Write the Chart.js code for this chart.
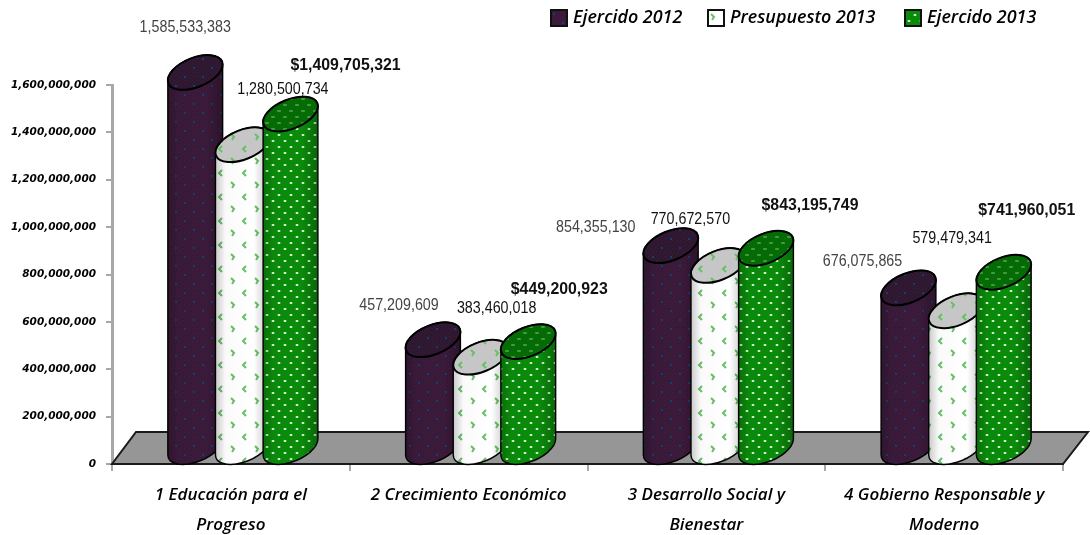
<!DOCTYPE html>
<html><head><meta charset="utf-8">
<style>html,body{margin:0;padding:0;background:#fff}#w{width:1090px;height:535px}</style>
<script src="https://cdn.jsdelivr.net/npm/chart.js@4/dist/chart.umd.js"></script>
</head><body><div id="w"><canvas id="c"></canvas></div>
<script>
const categories = [["1 Educación para el","Progreso"],"2 Crecimiento Económico",["3 Desarrollo Social y","Bienestar"],["4 Gobierno Responsable y","Moderno"]];
const seriesNames = ["Ejercido 2012","Presupuesto 2013","Ejercido 2013"];
const ejercido2012 = [1585533383,457209609,854355130,676075865];
const presupuesto2013 = [1280500734,383460018,770672570,579479341];
const ejercido2013 = [1409705321,449200923,843195749,741960051];
const yTicks = [0,200000000,400000000,600000000,800000000,1000000000,1200000000,1400000000,1600000000];

const DEPTH_X = 24, DEPTH_Y = 32;
const labelOffsets = [
  [[2,-61],[-22,-50],[-63,-34],[-34,-43]],
  [[52,-71],[28,-65],[-16,-62],[8,-88]],
  [[67,-65],[43,-68],[56,-59],[35,-78]]
];

function tile(w,h,fn){const c=document.createElement('canvas');c.width=w;c.height=h;fn(c.getContext('2d'));return c;}
function purpleTile(base){return tile(18,18,g=>{
  g.fillStyle=base;g.fillRect(0,0,18,18);
  g.fillStyle='rgba(110,25,60,.4)';
  for(let y=0;y<18;y+=2)for(let x=(y%4);x<18;x+=4)g.fillRect(x,y,1,1);
  g.fillStyle='#124070';
  g.fillRect(4,4,2,2);g.fillRect(13,13,2,2);
});}
function greenTile(base,dot){return tile(12,12,g=>{
  g.fillStyle=base;g.fillRect(0,0,12,12);
  g.fillStyle=dot;
  g.fillRect(2,2,2,2);g.fillRect(8,8,2,2);
  g.fillStyle='rgba(255,255,255,.22)';
  g.fillRect(1,2,1,2);g.fillRect(4,2,1,2);g.fillRect(7,8,1,2);g.fillRect(10,8,1,2);
});}
function whiteTile(base){return tile(24,24,g=>{
  g.fillStyle=base;g.fillRect(0,0,24,24);
  g.strokeStyle='#66c266';g.lineWidth=2;
  const l=(x,y)=>{g.beginPath();g.moveTo(x+3,y);g.lineTo(x,y+3);g.lineTo(x+3,y+6);g.stroke();};
  const r=(x,y)=>{g.beginPath();g.moveTo(x,y);g.lineTo(x+3,y+3);g.lineTo(x+1,y+6);g.stroke();};
  l(3,2);r(15,14);
});}
const skins=[
  {body:purpleTile('#381a3a'),cap:purpleTile('#2c1830')},
  {body:whiteTile('#ffffff'),cap:whiteTile('#c6c6c6')},
  {body:greenTile('#0a8c0a','#d0eed0'),cap:greenTile('#056c05','#3f9c3f')}
];

function cylinder(ctx,el,skin){
  const r=el.width/2, a=r*1.074, b=r*.544, th=-22*Math.PI/180;
  const cx=el.x+DEPTH_X/2, ty=el.y-DEPTH_Y/2, by=el.base-DEPTH_Y/2;
  const t0=Math.atan((b/a)*Math.tan(-th));
  ctx.save();
  ctx.lineJoin='round';
  ctx.beginPath();
  ctx.ellipse(cx,by,a,b,th,t0,t0+Math.PI);
  ctx.ellipse(cx,ty,a,b,th,t0+Math.PI,t0+2*Math.PI);
  ctx.closePath();
  ctx.fillStyle=ctx.createPattern(skin.body,'repeat');ctx.fill();
  const g=ctx.createLinearGradient(cx-r,0,cx+r,0);
  g.addColorStop(0,'rgba(0,0,0,.2)');g.addColorStop(.18,'rgba(0,0,0,.02)');g.addColorStop(.7,'rgba(0,0,0,0)');g.addColorStop(1,'rgba(0,0,0,.25)');
  ctx.fillStyle=g;ctx.fill();
  ctx.strokeStyle='#000';ctx.lineWidth=1.4;ctx.stroke();
  ctx.beginPath();ctx.ellipse(cx,ty,a,b,th,0,2*Math.PI);ctx.closePath();
  ctx.fillStyle=ctx.createPattern(skin.cap,'repeat');ctx.fill();
  ctx.strokeStyle='#000';ctx.lineWidth=2;ctx.stroke();
  ctx.restore();
}

const cylinders={id:'cylinders',
  beforeDatasetsDraw(chart){
    const {ctx,chartArea:A}=chart;
    ctx.save();
    ctx.beginPath();
    ctx.moveTo(A.left,A.bottom);ctx.lineTo(A.right,A.bottom);
    ctx.lineTo(A.right+25,A.bottom-DEPTH_Y);ctx.lineTo(A.left+DEPTH_X,A.bottom-DEPTH_Y);ctx.closePath();
    ctx.fillStyle='#969696';ctx.fill();
    ctx.strokeStyle='#1a1a1a';ctx.lineWidth=2;ctx.stroke();
    ctx.restore();
    chart.data.datasets.forEach((ds,s)=>{
      chart.getDatasetMeta(s).data.forEach(el=>cylinder(ctx,el,skins[s]));
    });
  },
  beforeDatasetDraw(){return false;},
  afterDatasetsDraw(chart){
    const ctx=chart.ctx;
    ctx.save();ctx.textAlign='center';ctx.textBaseline='middle';
    chart.data.datasets.forEach((ds,s)=>{
      chart.getDatasetMeta(s).data.forEach((el,i)=>{
        const [dx,dy]=labelOffsets[s][i];
        const t=(s===2?'$':'')+ds.data[i].toLocaleString('en-US');
        ctx.save();ctx.translate(el.x+dx,el.y+dy);
        if(s===2){ctx.scale(.96,1);ctx.font='bold 16.5px "Liberation Sans"';ctx.fillStyle='#111';}
        else{ctx.scale(.84,1);ctx.font='17px "Liberation Sans"';ctx.fillStyle=s===1?'#111':'#444';}
        ctx.fillText(t,0,0);
        ctx.restore();
      });
    });
    const lx=[551,708,905];
    ctx.textAlign='left';
    seriesNames.forEach((n,i)=>{
      ctx.fillStyle=ctx.createPattern(skins[i].body,'repeat');
      ctx.fillRect(lx[i],10,16,16);
      ctx.strokeStyle='#111';ctx.lineWidth=2;ctx.strokeRect(lx[i],10,16,16);
      ctx.fillStyle='#000';ctx.font='italic 600 17.9px "Open Sans"';
      ctx.fillText(n,lx[i]+22,18);
    });
    ctx.restore();
  }
};

new Chart(document.getElementById('c'),{
  type:'bar',
  data:{labels:categories,datasets:[
    {label:seriesNames[0],data:ejercido2012,backgroundColor:'#381a3a'},
    {label:seriesNames[1],data:presupuesto2013,backgroundColor:'#ffffff'},
    {label:seriesNames[2],data:ejercido2013,backgroundColor:'#0a8c0a'}
  ]},
  plugins:[cylinders],
  options:{
    responsive:true,maintainAspectRatio:false,animation:false,
    layout:{padding:{top:85,right:27,left:0,bottom:0}},
    categoryPercentage:.601,barPercentage:1.132,
    plugins:{legend:{display:false},tooltip:{enabled:false},title:{display:false}},
    scales:{
      x:{
        afterFit(s){s.height=71;},
        grid:{drawOnChartArea:false,tickLength:7,color:'#a8a8a8',lineWidth:2,offset:true},
        border:{color:'#1a1a1a',width:2},
        ticks:{color:'#000',maxRotation:0,autoSkip:false,padding:9,font:{family:'"Open Sans"',style:'italic',weight:'600',size:17,lineHeight:1.76}}
      },
      y:{
        min:0,max:1600000000,
        afterFit(s){s.width=112;},
        afterBuildTicks(s){s.ticks=yTicks.map(v=>({value:v}));},
        grid:{drawOnChartArea:false,tickLength:6,color:'#a8a8a8',lineWidth:2},
        border:{color:'#a8a8a8',width:3},
        ticks:{color:'#000',padding:10,callback:v=>v.toLocaleString('en-US'),font:{family:'"DejaVu Sans"',style:'oblique',weight:'bold',size:10.5}}
      }
    }
  }
});
</script></body></html>
